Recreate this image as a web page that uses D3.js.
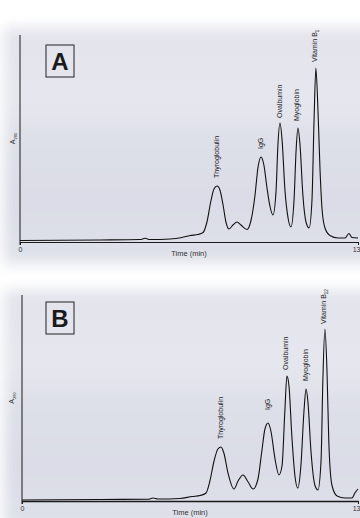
<!DOCTYPE html>
<html><head><meta charset="utf-8">
<script src="https://cdn.jsdelivr.net/npm/d3@7"></script>
<style>html,body{margin:0;padding:0;background:#fff;}svg{display:block;font-family:"Liberation Sans",Arial,sans-serif;}</style>
</head><body>
<script>
// ---- data (time in min, absorbance in arbitrary units) ----
const timeTicks = [0, 13];
const peakNames = ["Thyroglobulin", "IgG", "Ovalbumin", "Myoglobin", "Vitamin B"];
const vitaminSubA = "1";
const vitaminSubB = "12";

const timeA = [0,3.08,4.62,4.81,5.0,5.77,6.23,6.54,6.85,7.04,7.19,7.35,7.46,7.58,7.69,7.81,7.92,8.04,8.19,8.35,8.5,8.73,8.88,9.04,9.15,9.27,9.38,9.5,9.62,9.73,9.85,9.92,10.0,10.08,10.19,10.31,10.42,10.54,10.62,10.69,10.77,10.88,11.0,11.12,11.23,11.31,11.38,11.46,11.54,11.62,11.73,11.92,12.23,12.5,12.65,12.77,13.0];
const absA  = [0.75,1.0,1.25,1.85,1.25,1.5,2.25,3.25,3.75,4.75,10,21,26.5,28,26,18.5,10,6.5,8.5,10,8.5,6.25,10.5,23.5,37,42.5,38.5,27,17.5,13.5,26,48.5,59.5,51,26,12,7.5,21,46,57,48.5,23.5,10,7,21,61,87,66,36,16,7,3.25,2,2,4.25,2.25,2];
const peakTimeA = [7.58, 9.27, 10.0, 10.69, 11.38];
const peakAbsA  = [28, 42.5, 59.5, 57, 87];

const timeB = [0,3.02,4.87,5.07,5.26,6.11,6.58,6.89,7.12,7.27,7.43,7.58,7.70,7.81,7.97,8.2,8.36,8.55,8.75,8.94,9.13,9.28,9.4,9.52,9.63,9.79,9.94,10.06,10.17,10.25,10.33,10.44,10.56,10.67,10.79,10.91,10.99,11.06,11.18,11.33,11.45,11.57,11.64,11.72,11.8,11.87,11.99,12.19,12.5,12.77,12.88,13.0];
const absB  = [0.5,0.75,0.85,1.5,1.0,1.25,2.25,2.75,4,10,20,26,27,24,14,6,10,13,9.5,6,11,25,36,39,35,21,13,17.5,45,62.5,57.5,32.5,12.5,6.5,17.5,45,56,50,25,8,5.5,20,60,86,65,30,8,2.5,1.5,1.5,4,6];
const peakTimeB = [7.70, 9.52, 10.25, 10.99, 11.72];
const peakAbsB  = [27, 39, 62.5, 56, 86];

const W = 360, H = 518;
const svg = d3.select("body").append("svg").attr("width", W).attr("height", H);
const defs = svg.append("defs");
const blur = defs.append("filter").attr("id","soft").attr("x","-20%").attr("y","-20%").attr("width","140%").attr("height","140%");
blur.append("feGaussianBlur").attr("stdDeviation", 7);
const lg = defs.append("linearGradient").attr("id","bgGrad").attr("x1",0).attr("y1",0).attr("x2",0).attr("y2",1);
[[0,"#e2e3eb"],[0.3,"#e6e7ee"],[0.5,"#dddfe8"],[0.75,"#dadce6"],[1,"#e0e2ea"]].forEach(s=>lg.append("stop").attr("offset",s[0]).attr("stop-color",s[1]));

function panel(cfg) {
  svg.append("rect").attr("x", cfg.bg[0]).attr("y", cfg.bg[1]).attr("width", cfg.bg[2]).attr("height", cfg.bg[3])
    .attr("fill","url(#bgGrad)").attr("filter","url(#soft)");
  const g = svg.append("g");
  const x = d3.scaleLinear().domain([0, 13]).range([cfg.x0, cfg.x1]);
  const y = d3.scaleLinear().domain([0, cfg.ymax]).range([cfg.y0, cfg.yTop]);

  g.append("line").attr("x1", cfg.x0).attr("x2", cfg.x0).attr("y1", cfg.yTop).attr("y2", cfg.y0 + 3)
    .attr("stroke","#1a1a1a").attr("stroke-width",1);
  const ax = g.append("g").attr("transform", `translate(0,${cfg.y0})`)
    .call(d3.axisBottom(x).tickValues(timeTicks).tickSize(3).tickSizeOuter(0).tickFormat(d3.format("d")));
  ax.select(".domain").attr("stroke","#1a1a1a").attr("stroke-width", cfg.axisW);
  ax.selectAll(".tick line").attr("stroke","#1a1a1a");
  ax.selectAll(".tick text").attr("font-size", 7).attr("fill","#333").attr("font-family","Liberation Sans, Arial, sans-serif").attr("dy","0.55em");
  ax.selectAll(".tick").filter(d=>d===13).select("text").attr("text-anchor","end").attr("x", 360 - cfg.x1);

  g.append("text").attr("x", (cfg.x0 + cfg.x1)/2).attr("y", cfg.y0 + 14).attr("text-anchor","middle")
    .attr("font-size", 7.5).attr("fill","#333").text("Time (min)");

  const yl = g.append("text").attr("transform", `translate(${cfg.ylx},${(cfg.y0+cfg.yTop)/2}) rotate(-90)`)
    .attr("text-anchor","middle").attr("font-size",7).attr("fill","#333");
  yl.append("tspan").text("A");
  yl.append("tspan").attr("font-size",4).attr("dy",1.5).text("280");

  g.append("rect").attr("x", cfg.box[0]).attr("y", cfg.box[1]).attr("width", 28).attr("height", 32)
    .attr("fill","none").attr("stroke","#222").attr("stroke-width",1);
  g.append("text").attr("x", cfg.box[0] + 14).attr("y", cfg.box[1] + 25).attr("text-anchor","middle")
    .attr("font-size", 24).attr("font-weight","bold").attr("fill","#1a1a1a").text(cfg.letter);

  const pts = cfg.time.map((t,i)=>[t, cfg.abs[i]]);
  g.append("path").datum(pts)
    .attr("d", d3.line().x(d=>x(d[0])).y(d=>y(d[1])).curve(d3.curveMonotoneX))
    .attr("fill","none").attr("stroke","#111").attr("stroke-width",1.1);

  peakNames.forEach((name,i)=>{
    const px = x(cfg.peakTime[i]) + 1.5;
    const py = y(cfg.peakAbs[i]) - cfg.gaps[i];
    const t = g.append("text").attr("transform", `translate(${px},${py}) rotate(-90)`)
      .attr("font-size", 7).attr("fill","#222");
    t.append("tspan").text(name);
    if (i === 4) t.append("tspan").attr("font-size",4.5).attr("dy",1.5).text(cfg.sub);
  });
}

panel({letter:"A", bg:[4,28,380,236], x0:20, x1:358, y0:242, yTop:35, ymax:103.5, ylx:15, box:[46,45],
  time: timeA, abs: absA, peakTime: peakTimeA, peakAbs: peakAbsA, gaps:[8,8,5,7,6], sub: vitaminSubA, axisW:1});
panel({letter:"B", bg:[4,290,380,240], x0:22, x1:358, y0:501, yTop:295, ymax:103, ylx:14, box:[46,302],
  time: timeB, abs: absB, peakTime: peakTimeB, peakAbs: peakAbsB, gaps:[8,13,6,8,5], sub: vitaminSubB, axisW:1.6});
</script>
</body></html>
